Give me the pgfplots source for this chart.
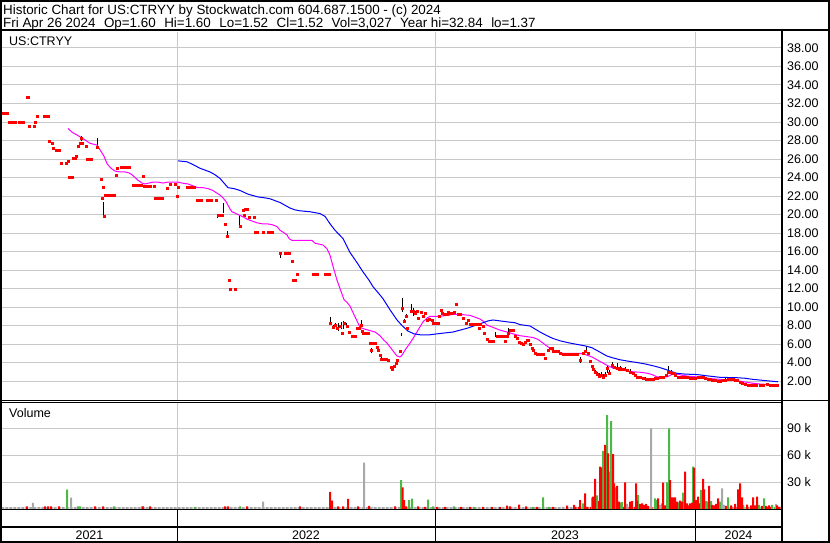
\documentclass[border=0pt]{standalone}
\usepackage{pgfplots}
\pgfplotsset{compat=1.18}
\usepackage{fontspec}
\setmainfont{Liberation Sans}
\definecolor{gridgray}{RGB}{200,200,200}
\definecolor{volgreen}{RGB}{76,184,72}
\definecolor{volgray}{RGB}{168,168,168}
\definecolor{volred}{RGB}{255,0,0}
\definecolor{mamag}{RGB}{255,0,255}
\definecolor{mablue}{RGB}{0,0,255}
\newcommand{\lbl}{\fontsize{12.5}{14}\selectfont}
\newcommand{\hdr}{\fontsize{13.4}{15}\selectfont}
\newcommand{\gap}{\hspace{8.5pt}}
\begin{document}
\begin{tikzpicture}
\useasboundingbox (0,0) rectangle (830pt,543pt);
\pgfplotsset{
  panel/.style={scale only axis, width=780pt, xmin=2, xmax=782, anchor=south west,
    axis line style={draw=none}, major tick length=0pt,
    xtick={177,435,695.5}, xticklabels={}, xmajorgrids, ymajorgrids,
    grid style={gridgray, line width=1pt},
    yticklabel pos=right,
    /pgf/number format/assume math mode=true,
    yticklabel style={font=\lbl, anchor=west, inner sep=0pt, xshift=5pt, text=black},
    clip=true},
}
% ---------------- price panel
\begin{axis}[panel, at={(2pt,143pt)}, height=368pt, ymin=-0.05, ymax=39.73,
  ytick={2,4,...,38},
  /pgf/number format/fixed, /pgf/number format/fixed zerofill, /pgf/number format/precision=2]
% high-low ranges
\addplot[black, line width=1pt, unbounded coords=jump] coordinates {
(81,28.0)(81,28.5)(81,nan)(97,27.3)(97,28.3)(97,nan)(103,19.8)(103,21.4)(103,nan)
(217,19.6)(217,20.1)(217,nan)(223,20.2)(223,21.2)(223,nan)(227,17.7)(227,18.2)(227,nan)
(239,18.6)(239,19.9)(239,nan)(280,15.3)(280,15.9)(280,nan)
(330,8.3)(330,8.9)(330,nan)(333,7.7)(333,8.1)(333,nan)(335,7.9)(335,8.3)(335,nan)
(338,7.4)(338,8.3)(338,nan)(341,7.6)(341,8.4)(341,nan)(343,7.6)(343,8.5)(343,nan)
(346,7.7)(346,8.3)(346,nan)(361,8.0)(361,8.6)(361,nan)(371,5.0)(371,5.6)(371,nan)
(381,4.3)(381,4.9)(381,nan)(392,3.3)(392,3.6)(392,nan)(401,6.9)(401,7.2)(401,nan)
(402,9.5)(402,11.0)(402,nan)(404,8.4)(404,8.7)(404,nan)(406,8.9)(406,9.2)(406,nan)
(411,9.3)(411,10.3)(411,nan)(413,9.0)(413,9.9)(413,nan)(415,9.2)(415,9.6)(415,nan)
(495,6.8)(495,7.3)(495,nan)(508,7.2)(508,7.7)(508,nan)
(580,4.0)(580,4.6)(580,nan)(586,5.1)(586,5.8)(586,nan)
(595,2.8)(595,3.2)(595,nan)(597,2.5)(597,3.0)(597,nan)(599,2.3)(599,2.9)(599,nan)
(601,2.4)(601,3.0)(601,nan)(603,2.3)(603,2.8)(603,nan)(605,2.5)(605,3.0)(605,nan)
(607,2.9)(607,3.7)(607,nan)(609,2.7)(609,3.2)(609,nan)(612,3.4)(612,4.1)(612,nan)
(617,3.2)(617,4.0)(617,nan)(620,3.2)(620,3.6)(620,nan)(625,3.1)(625,3.5)(625,nan)
(630,2.9)(630,3.3)(630,nan)(645,2.1)(645,2.4)(645,nan)(668,2.8)(668,3.6)(668,nan)
(671,2.8)(671,3.2)(671,nan)(690,2.2)(690,2.5)(690,nan)(700,2.3)(700,2.5)(700,nan)
(725,2.0)(725,2.3)(725,nan)(745,1.6)(745,1.8)(745,nan)(760,1.45)(760,1.6)
};
% closes
\addplot[only marks, mark=square*, mark size=1pt, color=volred] coordinates {
(3,30.9)(5,30.9)(7,30.9)(9,30.0)(11,30.0)(13,30.0)(15,30.0)(19,30.0)(21,30.0)(23,30.0)
(27,32.7)(28,32.7)(29,29.6)(34,29.6)(35,30.0)(37,30.6)(44,30.6)(46,30.6)(48,30.6)
(49,27.9)(52,27.7)(53,27.2)(56,27.0)(59,27.0)(61,25.6)(66,25.6)(68,25.8)(69,24.0)(72,24.0)
(73,26.1)(75,26.1)(76,26.3)(78,27.4)(80,27.7)(82,27.7)(81,28.3)(86,27.4)(87,26.0)(89,26.0)
(91,26.0)(97,27.3)(101,23.8)(103,23.0)(102,21.8)(104,19.8)(105,22.1)(107,22.1)(109,22.1)
(112,22.1)(114,22.1)(116,24.2)(117,25.0)(121,25.1)(123,25.1)(125,25.1)(127,25.1)(129,25.1)
(133,23.2)(135,23.2)(137,23.2)(139,23.2)(141,23.2)(143,24.1)(144,23.1)(146,23.1)(148,23.1)
(150,23.1)(154,23.1)(155,21.8)(157,21.8)(160,21.8)(162,21.8)(167,22.8)(170,23.3)(175,23.3)
(177,22.0)(178,23.0)(187,23.0)(189,23.0)(191,23.0)(194,23.0)(197,21.5)(199,21.5)(201,21.5)
(207,21.5)(209,21.5)(211,21.5)(216,21.5)(218,19.9)(220,19.9)(222,19.9)(225,18.9)(227,17.7)
(229,12.9)(230,11.95)(235,11.95)(240,18.7)(243,20.5)(245,20.6)(247,20.6)(244,19.9)(249,19.7)
(254,19.7)(255,18.1)(257,18.1)(263,18.1)(268,18.1)(270,18.1)(272,18.1)(280,15.8)(285,15.8)
(287,15.8)(289,15.8)(292,15.0)(293,12.9)(295,12.9)(297,13.5)(313,13.5)(315,13.5)(317,13.5)
(325,13.5)(327,13.5)(329,13.5)
(330,8.3)(333,7.8)(335,8.0)(337,7.7)(340,7.9)(342,7.2)(344,8.3)(347,7.9)(349,7.3)(352,6.8)
(354,6.8)(355,6.8)(357,7.7)(359,7.7)(361,8.05)(362,7.4)(363,7.2)(365,7.2)(367,7.2)(368,7.2)
(370,6.1)(371,5.35)(373,6.1)(375,6.1)(377,5.7)(378,5.35)(380,4.8)(381,4.35)(382,4.4)(384,4.4)
(386,4.4)(388,4.2)(391,3.5)(392,3.3)(394,3.6)(396,3.9)(397,4.2)(400,5.2)(402,9.9)(404,8.5)
(406,9.0)(407,7.7)(411,9.5)(413,9.6)(415,9.3)(417,9.6)(418,8.8)(421,9.4)(423,9.0)(425,9.3)
(427,8.6)(429,8.7)(432,8.6)(433,8.2)(435,8.2)(437,8.2)(438,8.2)(439,9.0)(441,9.7)(442,9.3)
(444,9.2)(446,9.2)(447,9.2)(448,9.4)(450,9.3)(452,9.35)(454,9.4)(456,10.3)(458,9.2)(460,9.2)
(463,8.8)(466,8.3)(468,8.6)(470,8.1)(473,8.1)(475,8.1)(477,8.1)(479,7.7)(480,8.1)(483,7.9)
(484,7.2)(487,6.5)(489,6.3)(491,6.3)(493,6.3)(497,6.9)(500,6.8)(502,6.8)(504,6.8)(505,6.3)
(507,6.8)(508,7.2)(510,7.5)(513,7.5)(515,6.8)(517,6.6)(519,6.25)(521,6.1)(523,5.96)(525,6.2)
(527,6.4)(528,6.4)(530,6.0)(532,5.6)(533,5.3)(535,5.0)(537,4.9)(539,4.9)(541,4.9)(543,4.9)
(545,4.5)(548,5.35)(550,5.6)(552,5.5)(553,5.2)(555,5.2)(557,5.2)(558,5.2)(560,5.0)(563,4.9)
(565,4.9)(567,4.9)(569,4.9)(571,4.9)(573,4.9)(575,4.9)(577,4.9)(580,4.3)(583,5.0)(585,5.2)
(588,5.0)(590,4.1)(592,3.6)(593,3.25)(595,3.0)(597,2.7)(599,2.5)(601,2.6)(603,2.4)(605,2.6)
(607,3.4)(609,2.8)(612,3.7)(614,3.5)(617,3.4)(619,3.3)(620,3.4)(622,3.3)(624,3.3)(627,3.2)
(630,3.0)(633,2.8)(635,2.6)(637,2.45)(640,2.4)(643,2.3)(646,2.2)(648,2.2)(650,2.2)(653,2.25)
(655,2.3)(657,2.3)(660,2.4)(663,2.45)(666,2.6)(668,3.0)(670,3.0)(672,2.9)(673,2.8)(675,2.6)
(678,2.45)(680,2.4)(683,2.4)(685,2.4)(687,2.4)(690,2.35)(693,2.3)(695,2.35)(698,2.4)(700,2.4)
(703,2.4)(705,2.3)(708,2.2)(710,2.15)(712,2.1)(715,2.05)(718,2.0)(720,2.0)(722,2.05)(725,2.1)
(728,2.25)(730,2.2)(733,2.15)(735,2.1)(737,2.1)(740,1.9)(742,1.8)(745,1.7)(748,1.6)(750,1.57)
(753,1.55)(756,1.55)(760,1.5)(763,1.6)(767,1.68)(770,1.6)(773,1.55)(775,1.5)(777,1.52)
};
% short moving average
\addplot[mamag, line width=1pt] coordinates {
(68,29.3)(72,28.9)(77,28.6)(83,28.2)(90,27.7)(97,27.5)(100,27.0)(104,26.3)(107,25.5)(111,25.0)
(115,24.7)(120,24.6)(125,24.6)(129,24.5)(132,24.3)(135,24.0)(138,23.7)(142,23.4)(145,23.3)
(149,23.4)(153,23.5)(158,23.5)(163,23.4)(168,23.5)(175,23.5)(178,23.5)(182,23.4)(188,23.3)
(193,23.1)(198,22.9)(203,22.9)(208,22.8)(213,22.6)(217,22.3)(220,22.1)(223,21.8)(226,21.4)
(228,21.0)(230,20.6)(232,20.3)(236,20.1)(240,19.9)(244,19.7)(247,19.5)(252,19.3)(257,19.1)
(262,19.0)(267,19.0)(272,18.9)(277,18.7)(280,18.3)(283,18.1)(287,17.8)(289,17.4)(292,17.2)
(297,17.2)(305,17.2)(312,17.2)(315,16.9)(323,16.7)(327,16.3)(330,15.6)(333,14.4)(337,12.9)
(340,12.0)(344,10.8)(347,10.5)(350,10.1)(353,9.4)(357,8.5)(360,7.8)(365,7.6)(370,7.45)
(375,7.3)(380,6.9)(384,6.4)(387,6.1)(392,5.4)(397,4.7)(400,4.6)(402,4.8)(406,5.5)(410,6.1)
(413,6.6)(418,7.5)(423,8.4)(427,8.8)(430,9.0)(435,9.0)(440,9.0)(447,9.1)(453,9.2)(460,9.2)
(465,9.15)(470,9.1)(475,8.9)(480,8.7)(484,8.4)(487,8.05)(493,7.8)(500,7.5)(507,7.3)(513,7.1)
(520,6.9)(527,6.8)(533,6.7)(538,6.5)(543,6.1)(548,5.7)(552,5.35)(557,5.1)(563,5.0)(570,5.0)
(580,5.0)(587,4.8)(592,4.6)(597,4.3)(602,4.0)(607,3.7)(610,3.55)(613,3.4)(620,3.2)(627,3.1)
(633,3.0)(640,2.95)(647,2.85)(652,2.7)(657,2.45)(662,2.45)(667,2.45)(670,2.6)(673,2.8)
(677,2.75)(683,2.6)(690,2.5)(697,2.45)(705,2.35)(712,2.25)(720,2.18)(728,2.1)(737,2.03)
(745,1.9)(753,1.75)(760,1.68)(768,1.62)(778,1.57)
};
% long moving average
\addplot[mablue, line width=1pt] coordinates {
(178,25.8)(187,25.7)(193,25.4)(200,25.0)(205,24.8)(210,24.6)(215,24.3)(220,23.9)(224,23.4)
(228,22.9)(234,22.8)(240,22.6)(248,22.2)(258,21.9)(265,21.8)(270,21.7)(275,21.5)(280,21.3)
(285,21.0)(290,20.7)(295,20.5)(300,20.4)(310,20.3)(320,20.1)(325,19.8)(330,19.0)(335,18.3)
(343,17.4)(350,15.9)(357,14.8)(363,13.8)(369,12.9)(373,12.2)(380,11.3)(383,10.9)(390,9.7)
(397,8.6)(402,8.0)(408,7.4)(414,7.1)(420,7.0)(430,7.0)(437,7.1)(445,7.2)(453,7.3)(460,7.5)
(467,7.7)(475,8.0)(483,8.3)(488,8.5)(493,8.6)(500,8.5)(507,8.4)(515,8.3)(520,8.1)(530,7.95)
(540,7.3)(547,6.9)(553,6.6)(560,6.35)(570,6.1)(585,5.8)(592,5.6)(597,5.3)(602,5.0)(607,4.7)
(613,4.5)(620,4.3)(628,4.15)(637,4.0)(645,3.85)(653,3.65)(660,3.45)(667,3.2)(672,3.0)
(677,2.83)(685,2.75)(697,2.7)(708,2.55)(720,2.4)(737,2.36)(745,2.3)(753,2.18)(765,2.05)(778,1.92)
};
\end{axis}
% ---------------- volume panel (thousands)
\begin{axis}[panel, at={(2pt,34pt)}, height=106pt, ymin=0, ymax=118.2,
  ytick={30,60,90}, yticklabels={30 k,60 k,90 k}]
% baseline of tiny volumes
\addplot[ybar, bar width=3pt, bar shift=0pt, fill=volgray, draw=none] coordinates {
(3,2)(7,2)(11,2)(15,2)(19,2)(23,2)(27,2)(31,2)(35,2)(39,2)(43,2)(47,2)(51,2)(55,2)(59,2)
(63,2)(67,2)(71,2)(75,2)(79,2)(83,2)(87,2)(91,2)(95,2)(99,2)(103,2)(107,2)(111,2)(115,2)
(119,2)(123,2)(127,2)(131,2)(135,2)(139,2)(143,2)(147,2)(151,2)(155,2)(159,2)(163,2)(167,2)
(171,2)(175,2)(179,2)(183,2)(187,2)(191,2)(195,2)(199,2)(203,2)(207,2)(211,2)(215,2)(219,2)
(223,2)(227,2)(231,2)(235,2)(239,2)(243,2)(247,2)(251,2)(255,2)(259,2)(263,2)(267,2)(271,2)
(275,2)(279,2)(283,2)(287,2)(291,2)(295,2)(299,2)(303,2)(307,2)(311,2)(315,2)(319,2)(323,2)
(327,2)(331,2)(335,2)(339,2)(343,2)(347,2)(351,2)(355,2)(359,2)(363,2)(367,2)(371,2)(375,2)
(379,2)(383,2)(387,2)(391,2)(395,2)(399,2)(403,2)(407,2)(411,2)(415,2)(419,2)(423,2)(427,2)
(431,2)(435,2)(439,2)(443,2)(447,2)(451,2)(455,2)(459,2)(463,2)(467,2)(471,2)(475,2)(479,2)
(483,2)(487,2)(491,2)(495,2)(499,2)(503,2)(507,2)(511,2)(515,2)(519,2)(523,2)(527,2)(531,2)
(535,2)(539,2)(543,2)(547,2)(551,2)(555,2)(559,2)(563,2)(567,2)(571,2)
};
\addplot[ybar, bar width=3pt, bar shift=0pt, fill=volred, draw=none] coordinates {
(575,2.5)(579,2.5)(583,2.5)(587,2.5)(591,2.5)(599,2.5)(603,2.5)(615,2.5)(619,2.5)(623,2.5)
(627,2.5)(631,2.5)(635,2.5)(639,2.5)(643,2.5)(647,2.5)(651,2.5)(655,2.5)(659,2.5)(663,2.5)
(671,2.5)(675,2.5)(679,2.5)(687,2.5)(691,2.5)(695,2.5)(699,2.5)(703,2.5)(711,2.5)(715,2.5)
(719,2.5)(727,2.5)(731,2.5)(735,2.5)(739,2.5)(747,2.5)(751,2.5)(755,2.5)(763,2.5)(767,2.5)
(771,2.5)(779,2.5)
};
\addplot[ybar, bar width=3pt, bar shift=0pt, fill=volgreen, draw=none] coordinates {
(595,2.5)(607,2.5)(611,2.5)(667,2.5)(683,2.5)(707,2.5)(723,2.5)(743,2.5)(759,2.5)(775,2.5)
};
% gray volume bars
\addplot[ybar, bar width=2pt, bar shift=0pt, fill=volgray, draw=none] coordinates {
(33,6.7)(71,12.6)(263,8.2)(364,51.7)(627,5.6)(651,90)(660,4.5)(722,23)(724,4.5)(776,5.6)
};
% green volume bars
\addplot[ybar, bar width=2pt, bar shift=0pt, fill=volgreen, draw=none] coordinates {
(67,21.6)(78,3)(80,3)(114,3)(142,3)(195,2.5)(240,3)(401,32.3)(409,10)(412,11.5)(428,10.4)
(433,3)(454,3)(474,2.5)(533,2.5)(543,13)(549,2.5)
(583,6.3)(592,12.6)(596,13.8)(597,15.2)(603,64.7)(604,25.7)(606,24.9)(607,104.8)(609,37.9)
(610,41.6)(611,98.1)(616,24.2)(620,7.1)(622,7.8)(638,15.6)(655,11.9)(657,10.0)(662,6.3)
(667,29.7)(669,90)(678,7.4)(683,18.2)(693,47.2)(701,21.2)(706,8.9)(707,8.2)(711,8.9)(720,8.2)
(728,13)(743,4.5)(759,4.5)(764,11.9)(772,4.5)
};
% red volume bars
\addplot[ybar, bar width=2pt, bar shift=0pt, fill=volred, draw=none] coordinates {
(27,3)(45,3)(48,3)(51,3)(59,3)(95,3)(103,3)(143,3)(150,3)(225,3)(228,3)(247,3)(300,3)
(330,19)(332,9.3)(338,3)(343,3)(348,11.2)(358,3)(369,3.5)(395,3)(402.5,24.2)(404,10)(406,3)
(418,3)(425,2.5)(437,2.5)(445,2.5)(461,2.5)(470,2.5)(483,2.5)(492,2.5)(500,2.5)(507,3.7)
(510,3)(519,4.8)(526,3)(537,2.5)(553,2.5)(567,3.7)(574,4.5)
(580,10.0)(585,17.5)(593,13.8)(595,33.5)(599,8.9)(600,47.2)(601,46.5)(605,71.4)(608,62.1)
(613,61.3)(614,28.6)(617,25.7)(619,8.2)(625,29.7)(630,8.2)(632,8.9)(636,28.6)(637,9.3)
(640,5.6)(642,6.3)(644,4.5)(646,5.6)(648,3.5)(658,11.9)(663,29.4)(665,4)(670,32.3)(672,13)
(673,13)(675,13)(677,8.2)(680,9.3)(682,8.2)(685,41.6)(687,6.3)(689,4)(690,6.3)(692,7.1)
(694,46.1)(696,10)(698,13.8)(699,6.3)(703,33.5)(704,21.9)(709,25.7)(712,4.5)(714,4)(716,5.6)
(718,11.9)(726,3.5)(731,4)(735,5.6)(738,21.9)(740,28.6)(742,13)(747,5)(751,4)(753,13)(755,4)
(757,13.8)(762,3.5)(766,3.5)(769,4)(777,4)
};
\end{axis}
% ---------------- frames and separators
\draw[line width=2pt] (1pt,1pt) rectangle (829pt,542pt);
\draw[line width=2pt] (0pt,512.5pt) -- (830pt,512.5pt);
\draw[line width=2pt] (782pt,1pt) -- (782pt,512.5pt);
\draw[line width=1pt] (0pt,142.5pt) -- (830pt,142.5pt);
\draw[line width=1pt] (0pt,140.5pt) -- (782pt,140.5pt);
\draw[line width=1.5pt] (0pt,33.5pt) -- (782pt,33.5pt);
\draw[line width=2pt] (0pt,16pt) -- (782pt,16pt);
\foreach \xx in {177,435,695.5} \draw[line width=1pt] (\xx pt,1pt) -- (\xx pt,33.5pt);
% ---------------- texts
\node[anchor=base west, inner sep=0pt, font=\hdr] at (3pt,528pt)
  {Historic Chart for US:CTRYY by Stockwatch.com 604.687.1500 - (c) 2024};
\node[anchor=base west, inner sep=0pt, font=\hdr] at (3pt,515.3pt)
  {Fri Apr 26 2024\gap Op=1.60\gap Hi=1.60\gap Lo=1.52\gap Cl=1.52\gap Vol=3,027\gap Year hi=32.84\gap lo=1.37};
\node[anchor=base west, inner sep=0pt, font=\lbl] at (9pt,497pt) {US:CTRYY};
\node[anchor=base west, inner sep=0pt, font=\lbl] at (9pt,125pt) {Volume};
\node[anchor=base, inner sep=0pt, font=\lbl] at (89.5pt,3.5pt) {2021};
\node[anchor=base, inner sep=0pt, font=\lbl] at (306pt,3.5pt) {2022};
\node[anchor=base, inner sep=0pt, font=\lbl] at (565pt,3.5pt) {2023};
\node[anchor=base, inner sep=0pt, font=\lbl] at (738.5pt,3.5pt) {2024};
\end{tikzpicture}
\end{document}
